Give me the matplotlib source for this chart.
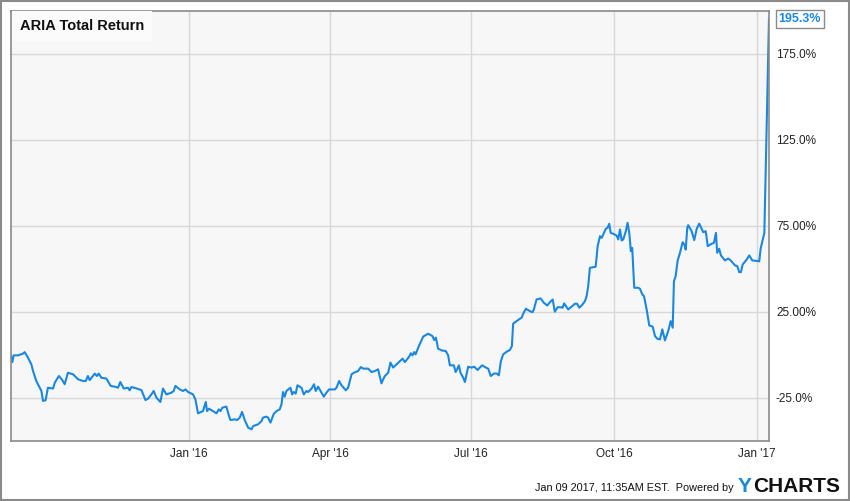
import numpy as np
import pandas as pd
import matplotlib
matplotlib.use("Agg")
import matplotlib.pyplot as plt
import matplotlib.dates as mdates
from matplotlib.patches import Rectangle

plt.rcParams["font.family"] = ["Liberation Sans", "DejaVu Sans"]

# days counted from 1 Jan 2016
day = [
    -115.0, -113.9, -113.1, -110.3, -107.1, -106.0, -103.9, -101.7, -100.6, -98.5,
    -95.2, -94.2, -92.5, -91.0, -87.7, -86.6, -83.9, -81.7, -80.2, -78.1,
    -74.8, -71.6, -68.4, -66.6, -65.2, -64.1, -60.8, -59.4, -58.3, -56.5,
    -53.3, -50.5, -47.9, -45.8, -44.3, -42.1, -39.4, -38.3, -37.2, -33.9,
    -30.7, -28.1, -26.5, -24.3, -22.8, -21.0, -18.5, -16.8, -14.6, -11.4,
    -9.9, -8.8, -6.0, -3.9, -2.3, -0.6, 2.6, 4.1, 5.8, 9.0,
    10.8, 11.6, 12.9, 17.7, 19.2, 20.3, 21.5, 24.1, 25.8, 26.7,
    29.5, 31.0, 32.7, 34.2, 35.9, 38.1, 40.3, 41.3, 44.5, 46.7,
    47.7, 49.9, 51.0, 52.5, 54.6, 56.4, 58.5, 59.6, 60.6, 61.7,
    62.8, 65.4, 66.5, 67.5, 68.8, 69.9, 72.5, 74.0, 75.7, 76.8,
    79.0, 80.6, 81.7, 83.2, 85.4, 86.9, 88.6, 90.3, 94.0, 95.1,
    96.8, 98.3, 101.1, 102.6, 104.8, 106.3, 109.0, 110.8, 112.3, 115.5,
    117.7, 119.8, 121.9, 124.1, 125.2, 126.3, 128.4, 129.9, 131.6, 133.8,
    135.9, 137.7, 139.2, 141.9, 143.0, 144.1, 145.2, 146.1, 148.4, 151.0,
    154.2, 157.0, 158.1, 159.2, 160.6, 162.8, 165.6, 167.1, 168.2, 170.8,
    171.9, 172.9, 174.0, 175.1, 176.8, 177.9, 180.0, 182.2, 183.9, 186.1,
    187.5, 189.0, 191.4, 192.9, 194.6, 196.6, 198.3, 199.8, 201.1, 202.6,
    204.8, 206.9, 208.2, 209.0, 211.2, 213.4, 214.5, 215.5, 217.2, 219.8,
    221.5, 222.4, 224.1, 226.7, 228.8, 231.0, 232.7, 234.5, 235.9, 237.7,
    240.3, 240.9, 241.9, 244.5, 246.7, 248.8, 250.3, 251.6, 253.2, 255.3,
    256.4, 257.4, 258.5, 261.1, 262.2, 262.8, 263.5, 265.0, 266.1, 267.1,
    268.8, 269.9, 271.0, 271.9, 273.5, 275.7, 276.8, 277.9, 279.0, 280.0,
    281.7, 282.8, 283.9, 284.9, 285.8, 287.1, 289.7, 290.8, 292.3, 293.4,
    295.1, 296.8, 299.0, 300.5, 301.9, 303.7, 305.2, 306.9, 309.0, 310.6,
    311.9, 312.7, 313.8, 315.1, 316.6, 318.3, 319.4, 320.3, 321.3, 321.9,
    324.1, 325.8, 327.4, 329.0, 330.6, 331.6, 333.2, 334.5, 337.0, 338.5,
    339.8, 340.6, 341.9, 343.0, 345.6, 347.7, 349.3, 352.1, 353.5, 354.8,
    355.9, 357.0, 359.6, 361.3, 363.2, 367.1, 367.7, 368.6, 371.0, 374.0,
]

total_return = [
    0.0, -4.3, -0.4, -0.4, 0.6, 1.5, -1.7, -5.6, -9.5, -15.3,
    -21.1, -26.9, -26.5, -19.2, -19.7, -16.3, -12.4, -14.8, -17.2, -10.5,
    -11.4, -14.3, -15.3, -15.3, -12.4, -14.8, -11.0, -12.4, -11.0, -13.4,
    -13.9, -18.2, -18.6, -19.2, -15.9, -19.7, -19.2, -20.7, -18.8, -19.6,
    -20.6, -26.4, -25.6, -23.1, -21.1, -25.0, -27.5, -19.7, -23.1, -22.1,
    -21.1, -18.2, -20.2, -21.1, -20.2, -21.7, -23.1, -26.0, -34.1, -32.8,
    -27.5, -32.8, -31.4, -34.1, -31.8, -32.8, -30.8, -30.2, -35.7, -38.0,
    -37.6, -38.0, -36.6, -33.3, -38.0, -42.4, -43.4, -41.5, -40.5, -38.6,
    -36.6, -36.0, -36.6, -39.5, -34.5, -32.8, -31.8, -28.9, -21.7, -24.4,
    -21.1, -19.2, -23.1, -21.7, -22.6, -17.8, -19.2, -23.1, -21.1, -21.7,
    -19.7, -17.2, -21.1, -18.6, -22.1, -24.4, -22.1, -20.2, -20.2, -19.2,
    -15.3, -17.8, -20.7, -19.2, -11.4, -10.5, -9.5, -7.2, -8.1, -8.1,
    -10.1, -9.5, -8.5, -16.7, -14.3, -12.4, -10.5, -4.6, -7.5, -5.6,
    -3.7, -2.3, -4.3, -1.2, 0.8, -0.4, 1.5, 0.2, 5.4, 10.5,
    12.2, 10.8, 8.5, 9.9, 3.5, 2.5, 2.1, -0.4, -6.2, -6.2,
    -10.1, -8.5, -6.2, -10.5, -13.4, -15.9, -7.0, -7.5, -7.0, -8.9,
    -7.5, -6.2, -7.5, -8.1, -12.4, -11.0, -10.9, -12.0, -3.7, 0.2,
    1.7, 2.7, 5.0, 18.0, 19.5, 20.9, 21.5, 23.8, 26.7, 25.3,
    24.7, 26.3, 32.1, 32.7, 30.2, 28.6, 30.5, 32.1, 25.0, 27.6,
    27.5, 27.3, 29.8, 26.3, 27.9, 29.6, 29.6, 27.3, 28.6, 31.1,
    34.0, 39.8, 50.5, 50.9, 51.1, 56.3, 63.1, 68.9, 67.9, 69.9,
    73.2, 73.8, 76.1, 70.8, 70.3, 69.3, 67.0, 72.8, 66.4, 67.0,
    71.8, 76.7, 70.8, 60.2, 62.1, 38.9, 38.9, 38.3, 35.0, 34.0,
    26.3, 17.0, 16.3, 10.8, 9.3, 8.9, 14.7, 8.3, 13.7, 19.5,
    15.7, 42.7, 45.6, 54.8, 59.2, 65.4, 64.1, 61.1, 73.8, 75.3,
    71.8, 66.6, 73.2, 76.2, 73.2, 71.2, 71.8, 63.1, 64.5, 65.0,
    70.8, 59.2, 61.6, 57.7, 54.8, 55.9, 54.8, 51.9, 51.5, 48.0,
    48.0, 52.4, 55.3, 57.7, 54.8, 54.4, 54.2, 61.6, 70.8, 195.3,
]

y_ticks = [175, 125, 75, 25, -25]
y_tick_labels = ["175.0%", "125.0%", "75.00%", "25.00%", "-25.0%"]
x_ticks = ["2016-01-01", "2016-04-01", "2016-07-01", "2016-10-01", "2017-01-01"]
x_tick_labels = ["Jan '16", "Apr '16", "Jul '16", "Oct '16", "Jan '17"]

dates = pd.Timestamp("2016-01-01") + pd.to_timedelta(day, unit="D")
line_color = "#1a88e0"

fig = plt.figure(figsize=(8.5, 5.01), dpi=100)
fig.patches.append(Rectangle((0.001, 0.001), 0.998, 0.997, transform=fig.transFigure,
                             fill=False, edgecolor="#8a8a8a", linewidth=1.5))

ax = fig.add_axes([0.0126, 0.1204, 0.8921, 0.8583])
ax.set_facecolor("#f7f7f7")
ax.plot(dates, total_return, color=line_color, linewidth=1.5, solid_joinstyle="round")

ax.set_xlim(dates[0], dates[-1])
ax.set_ylim(-50, 200)

ax.set_yticks(y_ticks)
ax.set_yticklabels(y_tick_labels)
ax.yaxis.tick_right()
ax.set_xticks(pd.to_datetime(x_ticks))
ax.set_xticklabels(x_tick_labels)
ax.tick_params(axis="both", length=0, labelsize=8.5, colors="#222222")
ax.tick_params(axis="y", pad=5)
ax.tick_params(axis="x", pad=5)
ax.grid(True, color="#d8d8d8", linewidth=1)
ax.set_axisbelow(True)
for s in ax.spines.values():
    s.set_color("#8a8a8a")
    s.set_linewidth(1.2)

# title box in the corner
ax.text(0.0125, 0.965, "ARIA Total Return", transform=ax.transAxes, fontsize=10.5,
        fontweight="bold", color="#111111", va="center", ha="left",
        bbox=dict(boxstyle="square,pad=0.55", facecolor="#fbfbfb", edgecolor="none"))

# last value flag
ax.annotate(f"{total_return[-1]}%", xy=(dates[-1], total_return[-1]),
            xytext=(7, 0), textcoords="offset points", fontsize=9,
            fontweight="bold", color=line_color, va="center", ha="left",
            bbox=dict(boxstyle="square,pad=0.25", facecolor="white",
                      edgecolor="#8a8a8a", linewidth=1),
            annotation_clip=False)

# footer
fig.text(0.8635, 0.026, "Jan 09 2017, 11:35AM EST.  Powered by", fontsize=7.8,
         ha="right", va="center", color="#111111")
fig.text(0.868, 0.028, "Y", fontsize=15, fontweight="heavy", ha="left",
         va="center", color="#1a88e0")
fig.text(0.8865, 0.028, "CHARTS", fontsize=15, fontweight="heavy", ha="left",
         va="center", color="#111111")

fig.savefig("out.png", dpi=100)
